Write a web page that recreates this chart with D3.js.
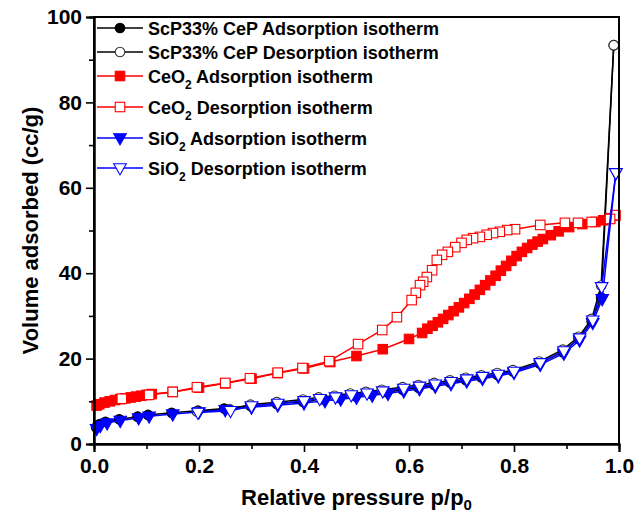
<!DOCTYPE html>
<html><head><meta charset="utf-8">
<script src="https://cdn.jsdelivr.net/npm/d3@7/dist/d3.min.js"></script>
<style>
body{margin:0;background:#fff}
svg text{font-family:"Liberation Sans",Arial,sans-serif;font-weight:bold;fill:#000}
</style>
</head><body>
<svg id="chart" width="644" height="517"></svg>
<script>
// ---- data ----
const xTicks = [0, 0.2, 0.4, 0.6, 0.8, 1.0];
const xMinorTicks = [0.1, 0.3, 0.5, 0.7, 0.9];
const yTicks = [0, 20, 40, 60, 80, 100];
const yMinorTicks = [10, 30, 50, 70, 90];

const scpAdsP = [0.004,0.01,0.022,0.048,0.083,0.103,0.148,0.198,0.248,0.298,0.348,0.398,0.438,0.468,0.498,0.528,0.558,0.588,0.618,0.648,0.678,0.708,0.738,0.768,0.798,0.848,0.893,0.923,0.948,0.966,0.99];
const scpAdsV = [3.9,4.6,5.2,5.8,6.4,6.8,7.3,7.8,8.3,8.9,9.4,9.9,10.4,10.8,11.2,11.7,12.1,12.7,13.2,13.8,14.4,15.0,15.6,16.2,17.0,18.9,21.5,24.6,28.7,34.3,93.4];
const scpDesP = [0.99,0.966,0.948,0.923,0.893,0.848,0.798,0.768,0.738,0.708,0.678,0.648,0.618,0.588,0.548,0.518,0.488,0.458,0.428,0.398,0.348,0.298,0.258,0.196];
const scpDesV = [93.4,37.1,29.3,25.1,22.1,19.3,17.3,16.6,16.1,15.5,14.9,14.3,13.8,13.3,12.7,12.2,11.8,11.3,10.9,10.4,9.8,9.2,8.2,7.6];

const ceoAdsP = [0.005,0.01,0.02,0.03,0.04,0.05,0.06,0.07,0.08,0.09,0.10,0.11,0.15,0.2,0.25,0.3,0.35,0.4,0.45,0.5,0.55,0.6,0.625,0.635,0.645,0.655,0.665,0.675,0.685,0.695,0.705,0.715,0.725,0.735,0.745,0.755,0.765,0.775,0.785,0.795,0.805,0.815,0.825,0.835,0.845,0.855,0.87,0.885,0.905,0.93,0.955,0.97,0.983,0.993];
const ceoAdsV = [9.0,9.3,9.7,10.0,10.3,10.5,10.7,10.9,11.1,11.3,11.5,11.7,12.2,13.2,14.2,15.3,16.6,17.7,19.2,20.6,22.2,24.6,26.0,27.0,27.7,28.5,29.3,30.2,31.1,32.0,33.0,34.0,35.0,36.1,37.2,38.3,39.4,40.6,41.7,42.9,44.0,45.0,45.9,46.7,47.4,48.0,48.9,49.8,50.8,51.5,52.0,52.4,52.9,53.5];
const ceoDesP = [0.993,0.983,0.948,0.922,0.897,0.85,0.802,0.787,0.773,0.76,0.748,0.735,0.722,0.71,0.70,0.688,0.674,0.663,0.653,0.644,0.634,0.627,0.621,0.613,0.605,0.577,0.549,0.503,0.448,0.397,0.35,0.297,0.25,0.196,0.15,0.105,0.053];
const ceoDesV = [53.6,52.7,52.0,51.8,51.8,51.3,50.3,50.1,49.7,49.4,49.0,48.5,48.2,47.8,47.1,46.1,45.0,44.3,43.1,40.7,39.1,38.0,37.2,35.4,33.7,29.7,26.7,23.4,19.4,17.8,16.7,15.4,14.3,13.3,12.2,11.5,10.6];

const sioAdsP = [0.005,0.012,0.025,0.05,0.085,0.105,0.15,0.2,0.25,0.3,0.35,0.4,0.44,0.47,0.5,0.53,0.56,0.59,0.62,0.65,0.68,0.71,0.74,0.77,0.80,0.85,0.895,0.925,0.95,0.968,0.994];
const sioAdsV = [3.6,4.3,4.9,5.5,6.1,6.5,7.0,7.5,8.0,8.6,9.1,9.6,10.1,10.5,10.9,11.4,11.8,12.4,12.9,13.5,14.1,14.7,15.3,15.9,16.7,18.6,21.2,24.3,28.4,34.0,63.5];
const sioDesP = [0.994,0.967,0.95,0.925,0.895,0.85,0.80,0.77,0.74,0.71,0.68,0.65,0.62,0.59,0.55,0.52,0.49,0.46,0.43,0.40,0.35,0.30,0.26,0.198];
const sioDesV = [63.5,36.8,29.0,24.8,21.8,19.0,17.0,16.3,15.8,15.2,14.6,14.0,13.5,13.0,12.4,11.9,11.5,11.0,10.6,10.1,9.5,8.9,7.8,7.4];

const seriesNames = ["ScP33% CeP Adsorption isotherm","ScP33% CeP Desorption isotherm","CeO|2| Adsorption isotherm","CeO|2| Desorption isotherm","SiO|2| Adsorption isotherm","SiO|2| Desorption isotherm"];
const seriesColors = ["#000000","#000000","#ff0000","#ff0000","#0000ff","#0000ff"];
const seriesSymbols = ["circleFilled","circleOpen","squareFilled","squareOpen","triDownFilled","triDownOpen"];

// ---- chart ----
const svg = d3.select("#chart");
const M = {left:94, right:619, top:17, bottom:444};
const x = d3.scaleLinear().domain([0,1]).range([M.left, M.right]);
const y = d3.scaleLinear().domain([0,100]).range([M.bottom, M.top]);

const series = [
  [scpAdsP, scpAdsV],[scpDesP, scpDesV],
  [ceoAdsP, ceoAdsV],[ceoDesP, ceoDesV],
  [sioAdsP, sioAdsV],[sioDesP, sioDesV]
].map((s,i)=>({name:seriesNames[i], color:seriesColors[i], sym:seriesSymbols[i],
  pts:s[0].map((p,j)=>[p,s[1][j]])}));

function drawSymbol(g, sym, color, cx, cy){
  const filled = sym.endsWith("Filled");
  const fill = filled ? color : "#fff";
  if (sym.startsWith("circle")) {
    g.append("circle").attr("cx",cx).attr("cy",cy).attr("r",4.8)
      .attr("fill",fill).attr("stroke", filled?color:"#333").attr("stroke-width",1.1);
  } else if (sym.startsWith("square")) {
    const s=9.5;
    g.append("rect").attr("x",cx-s/2).attr("y",cy-s/2).attr("width",s).attr("height",s)
      .attr("fill",fill).attr("stroke",color).attr("stroke-width",1.1);
  } else {
    const w=6.3, h=5.6;
    g.append("path").attr("d",`M${cx-w},${cy-h*0.75}L${cx+w},${cy-h*0.75}L${cx},${cy+h*1.25}Z`)
      .attr("fill",fill).attr("stroke",color).attr("stroke-width",1.1);
  }
}

const line = d3.line().x(d=>x(d[0])).y(d=>y(d[1]));
const plot = svg.append("g");
series.forEach(s=>{
  plot.append("path").datum(s.pts).attr("d",line).attr("fill","none")
    .attr("stroke",s.color).attr("stroke-width",1.5);
  const g = plot.append("g");
  s.pts.forEach(d=>drawSymbol(g, s.sym, s.color, x(d[0]), y(d[1])));
});

// frame
svg.append("rect").attr("x",M.left).attr("y",M.top).attr("width",M.right-M.left).attr("height",M.bottom-M.top)
  .attr("fill","none").attr("stroke","#000").attr("stroke-width",2);

// axes
const xAxis = svg.append("g").attr("transform",`translate(0,${M.bottom})`)
  .call(d3.axisBottom(x).tickValues(xTicks).tickFormat(d3.format(".1f")).tickSize(8).tickPadding(6));
const xMinor = svg.append("g").attr("transform",`translate(0,${M.bottom})`)
  .call(d3.axisBottom(x).tickValues(xMinorTicks).tickFormat("").tickSize(5));
const yAxis = svg.append("g").attr("transform",`translate(${M.left},0)`)
  .call(d3.axisLeft(y).tickValues(yTicks).tickSize(8).tickPadding(4));
const yMinor = svg.append("g").attr("transform",`translate(${M.left},0)`)
  .call(d3.axisLeft(y).tickValues(yMinorTicks).tickFormat("").tickSize(5));
[xAxis,xMinor,yAxis,yMinor].forEach(a=>{
  a.select(".domain").attr("stroke","#000").attr("stroke-width",2);
  a.selectAll(".tick line").attr("stroke","#000").attr("stroke-width",1.6);
  a.selectAll(".tick text").style("font-size","21px").style("font-family",'"Liberation Sans",Arial,sans-serif').style("font-weight","bold");
});

// axis titles
const xt = svg.append("text").attr("x",(M.left+M.right)/2).attr("y",505).attr("text-anchor","middle").style("font-size","22px");
xt.append("tspan").text("Relative pressure p/p");
xt.append("tspan").text("0").attr("dy",5).style("font-size","15px");

svg.append("text").attr("transform",`translate(38,${(M.top+M.bottom)/2}) rotate(-90)`)
  .attr("text-anchor","middle").style("font-size","22px").text("Volume adsorbed (cc/g)");

// legend
const legY = [28, 52, 76, 107, 138, 168];
const leg = svg.append("g");
series.forEach((s,i)=>{
  const yy = legY[i];
  leg.append("line").attr("x1",97).attr("x2",143).attr("y1",yy).attr("y2",yy).attr("stroke",s.color).attr("stroke-width",1.5);
  drawSymbol(leg, s.sym, s.color, 120, yy);
  const t = leg.append("text").attr("x",148).attr("y",yy+6.5).style("font-size","18px");
  const parts = s.name.split("|");
  t.append("tspan").text(parts[0]);
  if (parts.length>1){
    t.append("tspan").text(parts[1]).attr("dy",6).style("font-size","12px");
    t.append("tspan").text(parts[2]).attr("dy",-6);
  }
});
</script>
</body></html>
